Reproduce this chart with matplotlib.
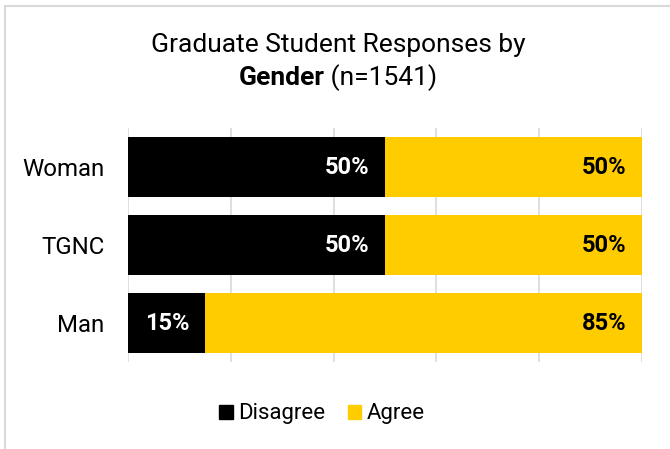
import matplotlib
matplotlib.use('Agg')
import matplotlib.pyplot as plt
from matplotlib.patches import Patch, Rectangle

plt.rcParams['font.family'] = ['Roboto', 'DejaVu Sans']

# данные
groups = ['Woman', 'TGNC', 'Man']
disagree = [50, 50, 15]
agree = [50, 50, 85]
series_names = ['Disagree', 'Agree']
colors = ['#000000', '#FFCC00']
ticks = [0, 20, 40, 60, 80, 100]

W, H = 670, 449
fig = plt.figure(figsize=(W / 100, H / 100), dpi=100)

# рамка вокруг всей картинки (уходит за правый и нижний край)
fig.patches.append(Rectangle((4.5 / W, -0.1), 1.2, (H - 6.5) / H + 0.1,
                             transform=fig.transFigure, fill=False,
                             edgecolor='#d9d9d9', lw=1.5, clip_on=False))

ax = fig.add_axes([128 / W, (H - 362) / H, (642 - 128) / W, (362 - 128) / H])
ypos = list(range(len(groups)))[::-1]

ax.barh(ypos, disagree, height=0.77, color=colors[0], zorder=2)
ax.barh(ypos, agree, left=disagree, height=0.77, color=colors[1], zorder=2)

for y, d, a in zip(ypos, disagree, agree):
    ax.text(d - 3, y, f'{d}%', ha='right', va='center', color='white',
            fontsize=17, fontweight='bold', zorder=3)
    ax.text(d + a - 3, y, f'{a}%', ha='right', va='center', color='black',
            fontsize=17, fontweight='bold', zorder=3)

ax.set_xlim(0, 100)
ax.set_ylim(-0.5, len(groups) - 0.5)
ax.set_xticks(ticks)
ax.set_xticklabels([])
ax.tick_params(axis='x', length=0)
ax.grid(axis='x', color='#d9d9d9', lw=1.2, zorder=0)
ax.set_yticks(ypos)
ax.set_yticklabels(groups, fontsize=17.3)
ax.tick_params(axis='y', length=0, pad=17)
for s in ax.spines.values():
    s.set_visible(False)

# заголовок: вторая строка частично жирная
cx = 338 / W
fig.text(cx, (H - 45) / H, 'Graduate Student Responses by', ha='center',
         va='center', fontsize=19)
renderer = fig.canvas.get_renderer()
t1 = fig.text(0, (H - 78) / H, 'Gender', ha='left', va='center',
              fontsize=19, fontweight='bold')
t2 = fig.text(0, (H - 78) / H, ' (n=1541)', ha='left', va='center',
              fontsize=19)
w1 = t1.get_window_extent(renderer).width / W
w2 = t2.get_window_extent(renderer).width / W
t1.set_x(cx - (w1 + w2) / 2)
t2.set_x(cx - (w1 + w2) / 2 + w1)

handles = [Patch(color=c, label=n) for c, n in zip(colors, series_names)]
fig.legend(handles=handles, loc='center', bbox_to_anchor=(322 / W, (H - 414) / H),
           ncol=2, frameon=False, fontsize=16, handlelength=0.6,
           handleheight=0.6, handletextpad=0.25, columnspacing=1.0)

fig.savefig('out.png', dpi=100)
